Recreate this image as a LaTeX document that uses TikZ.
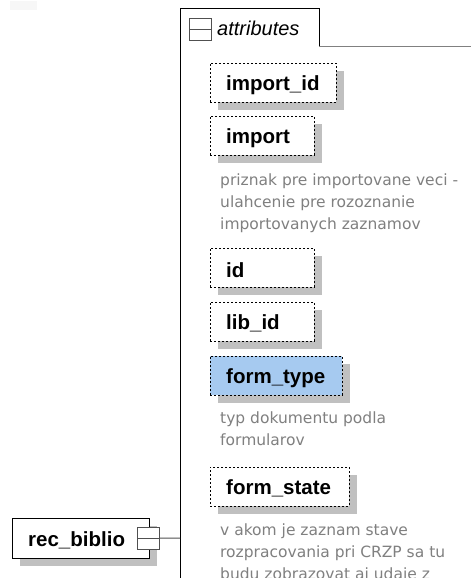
\documentclass[tikz,border=0pt]{standalone}
\usepackage{fontspec}
\setmainfont{Liberation Sans}
\newfontfamily\descfont{DejaVu Sans}
\usetikzlibrary{shadows}
\definecolor{shadowgray}{HTML}{C0C0C0}
\definecolor{descgray}{HTML}{808080}
\definecolor{selblue}{HTML}{A6CAF0}
\definecolor{icongray}{HTML}{505050}
\definecolor{faint}{HTML}{F7F7F7}
\tikzset{
  boxshadow/.style={drop shadow={shadow xshift=8pt, shadow yshift=-8pt, fill=shadowgray, opacity=1}},
  attrbox/.style={rectangle, draw=black, dash pattern=on 2pt off 2pt, fill=white,
    inner sep=0pt, minimum height=39pt, anchor=north west, boxshadow},
  elembox/.style={rectangle, draw=black, fill=white, inner sep=0pt,
    minimum height=40pt, anchor=north west, boxshadow},
  lbl/.style={inner sep=0pt, anchor=west, font=\fontsize{20.5}{24}\selectfont\bfseries},
  desc/.style={inner sep=0pt, anchor=north west, align=left, text=descgray,
    font=\descfont\fontsize{15.5}{22}\selectfont},
  minusicon/.style={rectangle, draw=icongray, fill=white, inner sep=0pt,
    minimum width=22pt, minimum height=22pt, anchor=north west,
    path picture={\draw[icongray] (path picture bounding box.west) -- (path picture bounding box.east);}},
  frame/.style={draw=black, line width=1pt},
}
\begin{document}
\begin{tikzpicture}[x=1pt, y=-1pt]
\clip (0,0) rectangle (471,578);
\fill[white] (0,0) rectangle (471,578);
\fill[faint] (10,1) rectangle (37,10);

% group frame with tab
\draw[frame] (180,578) -- (180,9) -- (319,9) -- (319,47);
\draw[descgray, line width=1pt] (319,47) -- (471,47);
\node[minusicon] (attricon) at (189,18) {};
\node[inner sep=0pt, anchor=base west, font=\fontsize{20}{24}\selectfont\itshape] (attrlbl) at (217,36) {attributes};

% attributes
\node[attrbox, minimum width=126pt] (importid) at (210,63) {};
\node[lbl] (importidlbl) at ([xshift=16pt, yshift=-2pt]importid.west) {import\_id};

\node[attrbox, minimum width=104pt] (import) at (210,116) {};
\node[lbl] (importlbl) at ([xshift=16pt, yshift=-2pt]import.west) {import};
\node[desc] (importdesc) at (220,174) {priznak pre importovane veci -\\ulahcenie pre rozoznanie\\importovanych zaznamov};

\node[attrbox, minimum width=104pt] (id) at (210,248) {};
\node[lbl] (idlbl) at ([xshift=16pt, yshift=-2pt]id.west) {id};

\node[attrbox, minimum width=104pt] (libid) at (210,302) {};
\node[lbl] (libidlbl) at ([xshift=16pt, yshift=-2pt]libid.west) {lib\_id};

\node[attrbox, minimum width=132pt, fill=selblue] (formtype) at (210,356) {};
\node[lbl] (formtypelbl) at ([xshift=16pt, yshift=-2pt]formtype.west) {form\_type};
\node[desc] (formtypedesc) at (220,412) {typ dokumentu podla\\formularov};

\node[attrbox, minimum width=139pt] (formstate) at (210,467) {};
\node[lbl] (formstatelbl) at ([xshift=16pt, yshift=-2pt]formstate.west) {form\_state};
\node[desc] (formstatedesc) at (220,524) {v akom je zaznam stave\\rozpracovania pri CRZP sa tu\\budu zobrazovat aj udaje z};

% element
\node[elembox, minimum width=137pt] (recbiblio) at (12,518) {};
\node[lbl] (recbibliolbl) at ([xshift=16pt, yshift=-2pt]recbiblio.west) {rec\_biblio};
\node[minusicon] (recicon) at (137,527) {};
\coordinate (groupjoin) at (180,538);
\draw[icongray, line width=1pt] (recicon.east) -- (groupjoin);
\end{tikzpicture}
\end{document}
